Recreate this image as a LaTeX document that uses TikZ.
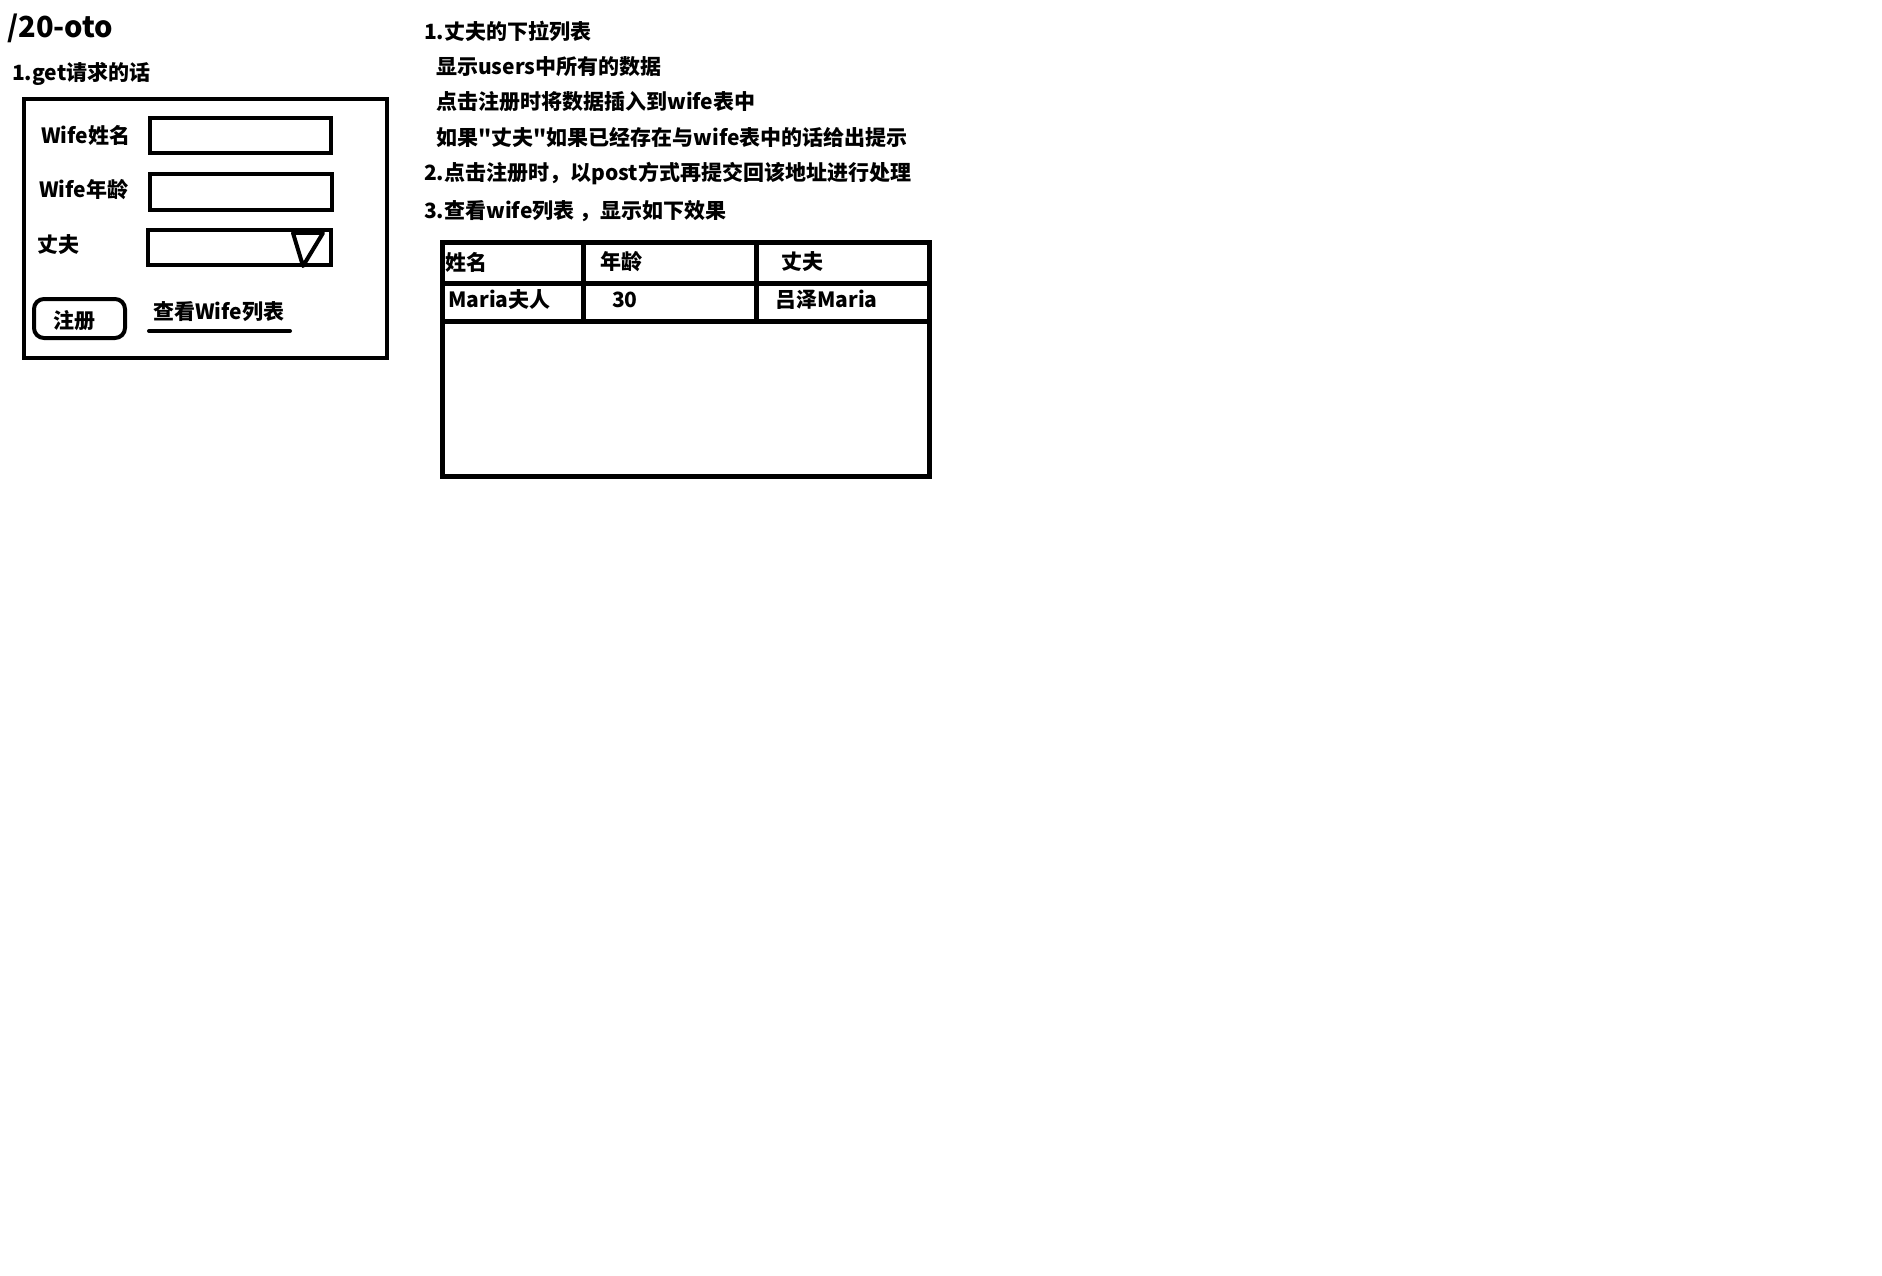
\documentclass[tikz,border=0pt]{standalone}
\usepackage{fontspec}
\newfontfamily\uifont{Noto Sans CJK SC}
\usetikzlibrary{positioning}

\tikzset{
	txt/.style = {anchor=west, inner sep=0pt, font=\uifont\bfseries\fontsize{21}{21}\selectfont},
	bigtxt/.style = {anchor=west, inner sep=0pt, font=\uifont\bfseries\fontsize{29}{29}\selectfont},
	frame/.style = {line width=4pt},
	grid/.style = {line width=5pt}
}

\begin{document}
\begin{tikzpicture}[x=1pt, y=-1pt]
	\fill[white] (0,0) rectangle (1882,1276);
	\useasboundingbox (0,0) rectangle (1882,1276);
	
	% write titles
	\node [bigtxt] (title) at (7, 28) {/20-oto};
	\node [txt] (getlabel) at (12, 74) {1.get请求的话};
	
	% draw the form
	\draw[frame] (24,99) rectangle (387,358);
	\draw[frame] (150,118) rectangle (331,153);
	\draw[frame] (150,174) rectangle (332,210);
	\draw[frame] (148,230) rectangle (331,265);
	\draw[frame, line join=round] (293,233) -- (323,233) -- (303,266) -- cycle;
	\draw[frame, rounded corners=10pt] (34,299) rectangle (125,338);
	\draw[frame, line cap=round] (149,331) -- (290,331);
	
	% write form labels
	\node [txt] (namelabel) at (41, 135) {Wife姓名};
	\node [txt] (agelabel) at (39, 190) {Wife年龄};
	\node [txt] (husbandlabel) at (37, 245) {丈夫};
	\node [txt] (register) at (53, 321) {注册};
	\node [txt] (listlink) at (153, 312) {查看Wife列表};
	
	% write notes
	\node [txt] (noteone) at (424, 31) {1.丈夫的下拉列表};
	\node [txt] (noteonea) at (436, 67) {显示users中所有的数据};
	\node [txt] (noteoneb) at (436, 102) {点击注册时将数据插入到wife表中};
	\node [txt] (noteonec) at (436, 137) {如果"丈夫"如果已经存在与wife表中的话给出提示};
	\node [txt] (notetwo) at (424, 174) {2.点击注册时，以post方式再提交回该地址进行处理};
	\node [txt] (notethree) at (424, 211) {3.查看wife列表 ，显示如下效果};
	
	% draw the table
	\draw[grid] (442.5,242.5) rectangle (929.5,476.5);
	\draw[grid] (442.5,283) -- (929.5,283);
	\draw[grid] (442.5,321) -- (929.5,321);
	\draw[grid] (583,242.5) -- (583,321);
	\draw[grid] (756,242.5) -- (756,321);
	
	% write table cells
	\node [txt] (namehead) at (445, 262) {姓名};
	\node [txt] (agehead) at (600, 262) {年龄};
	\node [txt] (husbandhead) at (781, 262) {丈夫};
	\node [txt] (namecell) at (448, 300) {Maria夫人};
	\node [txt] (agecell) at (612, 300) {30};
	\node [txt] (husbandcell) at (775, 300) {吕泽Maria};
\end{tikzpicture}
\end{document}
